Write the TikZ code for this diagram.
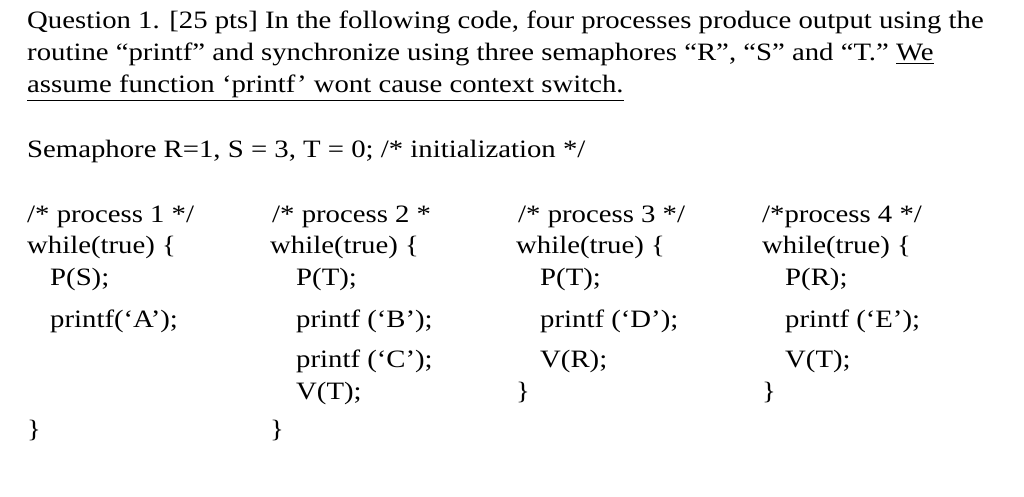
\documentclass[tikz,border=0pt]{standalone}
\usepackage{fontspec}
\setmainfont[FakeStretch=1.15]{Liberation Serif}
\begin{document}
\begin{tikzpicture}[x=1pt,y=-1pt,
  t/.style={anchor=base west,inner sep=0pt,font=\fontsize{25}{30}\selectfont}]
\useasboundingbox (0,0) rectangle (1024,497);
\node[t] (q1) at (27,29) {Question 1. [25 pts] In the following code, four processes produce output using the};
\node[t] (q2) at (27,61) {routine “printf” and synchronize using three semaphores “R”, “S” and “T.” \underline{We}};
\node[t] (q3) at (27,93) {\underline{assume function ‘printf’ wont cause context switch.}};
\node[t] (sem) at (27,158) {Semaphore R=1, S = 3, T = 0; /* initialization */};
% process 1
\node[t] (a1) at (27,222) {/* process 1 */};
\node[t] (a2) at (27,253) {while(true) \{};
\node[t] (a3) at (50,285) {P(S);};
\node[t] (a4) at (50,327) {printf(‘A’);};
\node[t] (a5) at (27,437) {\}};
% process 2
\node[t] (b1) at (272,222) {/* process 2 *};
\node[t] (b2) at (270,253) {while(true) \{};
\node[t] (b3) at (296,285) {P(T);};
\node[t] (b4) at (296,327) {printf (‘B’);};
\node[t] (b5) at (296,367) {printf (‘C’);};
\node[t] (b6) at (296,399) {V(T);};
\node[t] (b7) at (270,437) {\}};
% process 3
\node[t] (c1) at (518,222) {/* process 3 */};
\node[t] (c2) at (516,253) {while(true) \{};
\node[t] (c3) at (540,285) {P(T);};
\node[t] (c4) at (540,327) {printf (‘D’);};
\node[t] (c5) at (540,367) {V(R);};
\node[t] (c6) at (516,399) {\}};
% process 4
\node[t] (d1) at (762,222) {/*process 4 */};
\node[t] (d2) at (762,253) {while(true) \{};
\node[t] (d3) at (785,285) {P(R);};
\node[t] (d4) at (785,327) {printf (‘E’);};
\node[t] (d5) at (785,367) {V(T);};
\node[t] (d6) at (762,399) {\}};
\end{tikzpicture}
\end{document}
